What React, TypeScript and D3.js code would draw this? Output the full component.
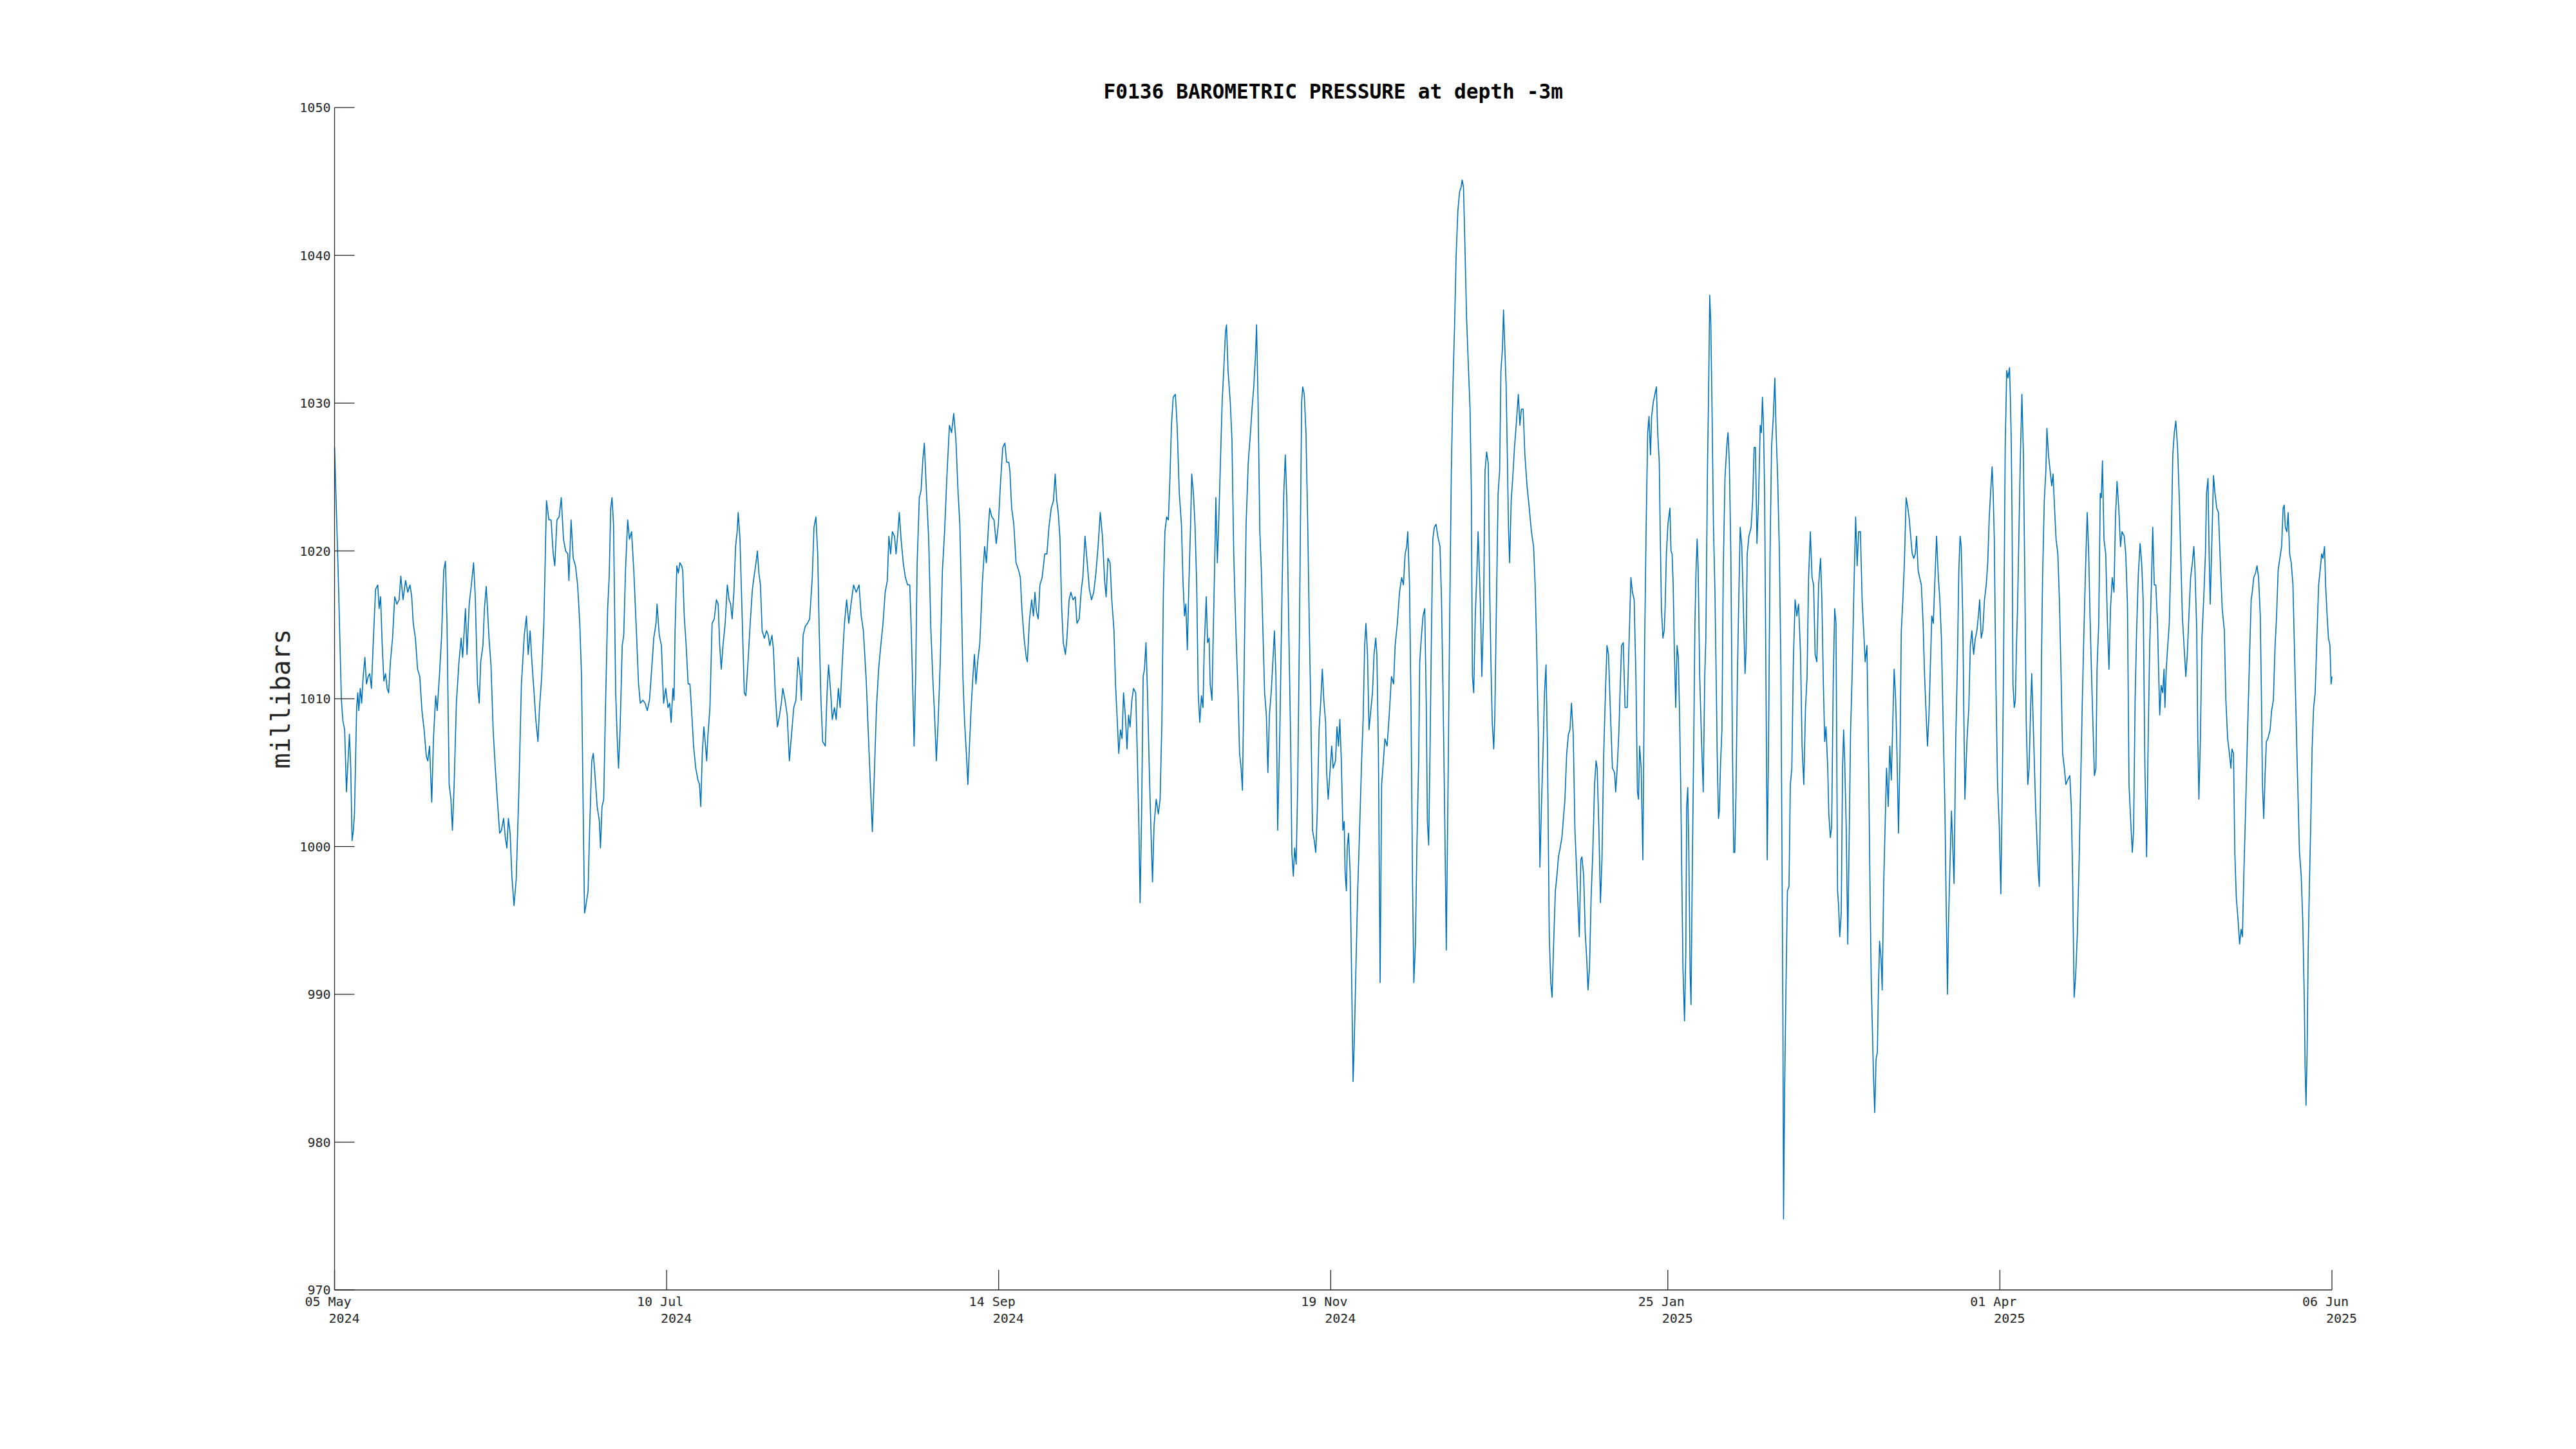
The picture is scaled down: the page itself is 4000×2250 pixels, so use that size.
import React from 'react';
import * as d3 from 'd3';

// ---- Data (day offset from 05 May 2024 00:00 UTC, pressure in millibars) ----
const START_MS = Date.UTC(2024, 4, 5);
const END_MS = Date.UTC(2025, 5, 6);

const yTickValues = [970, 980, 990, 1000, 1010, 1020, 1030, 1040, 1050];
const xTickDates = ['2024-05-05', '2024-07-10', '2024-09-14', '2024-11-19', '2025-01-25', '2025-04-01', '2025-06-06'];
const xTickDayLabels = ['05 May', '10 Jul', '14 Sep', '19 Nov', '25 Jan', '01 Apr', '06 Jun'];
const xTickYearLabels = ['2024', '2024', '2024', '2024', '2025', '2025', '2025'];

const seriesMayJul: [number, number][] = [
  [0, 1027.0], [0.71, 1018.7], [1.36, 1009.9], [1.66, 1008.5], [2.01, 1007.9], [2.36, 1003.7], [2.66, 1005.7], [2.96, 1007.6], [3.22, 1005.3], [3.48, 1000.4], [3.74, 1001.1], [3.96, 1002.2], [4.39, 1009.4], [4.61, 1010.4], [4.82, 1009.2], [5.12, 1010.7], [5.38, 1009.7], [5.69, 1011.5], [6.03, 1012.8], [6.34, 1011.0], [6.68, 1011.5], [6.99, 1011.7], [7.33, 1010.7], [7.63, 1013.3], [8.15, 1017.4], [8.59, 1017.7], [8.85, 1016.1], [9.15, 1016.9], [9.45, 1013.8], [9.80, 1011.2], [10.14, 1011.7], [10.45, 1010.7], [10.75, 1010.4], [11.10, 1012.5], [11.53, 1014.1], [11.96, 1016.9], [12.39, 1016.4], [12.83, 1016.7], [13.17, 1018.3], [13.61, 1016.7], [14.12, 1018.0], [14.56, 1017.2], [14.99, 1017.7], [15.34, 1016.9], [15.64, 1015.1], [16.07, 1014.1], [16.50, 1012.0], [16.94, 1011.5], [17.37, 1009.2], [17.80, 1007.9], [18.24, 1006.1], [18.54, 1005.8], [18.88, 1006.8], [19.32, 1003.0], [19.66, 1007.3], [20.10, 1010.2], [20.40, 1009.2], [20.83, 1011.5], [21.26, 1014.1], [21.70, 1018.7], [22.04, 1019.3], [22.35, 1015.1], [22.78, 1004.2], [23.13, 1003.2], [23.43, 1001.1], [23.77, 1004.2], [24.21, 1009.7], [24.73, 1012.5], [25.16, 1014.1], [25.46, 1012.8], [26.02, 1016.1], [26.33, 1013.0], [26.76, 1016.4], [27.19, 1017.7], [27.63, 1019.2], [27.97, 1016.9], [28.41, 1011.0], [28.75, 1009.7], [29.05, 1012.5], [29.49, 1013.6], [29.79, 1016.1], [30.14, 1017.6], [30.35, 1016.4], [30.70, 1014.1], [31.09, 1012.3], [31.52, 1007.9], [31.95, 1005.3], [32.39, 1003.0], [32.82, 1000.9], [33.16, 1001.1], [33.60, 1001.9], [33.94, 1000.6], [34.25, 999.9], [34.55, 1001.9], [34.90, 1000.9], [35.24, 998.0], [35.67, 996.0], [36.11, 997.8], [36.63, 1003.7], [37.14, 1011.0], [37.71, 1014.3], [38.14, 1015.6], [38.49, 1013.0], [38.88, 1014.6], [39.22, 1012.5], [39.66, 1010.4], [40.00, 1008.6], [40.43, 1007.1], [40.74, 1009.4], [41.17, 1011.5], [41.60, 1015.1], [42.12, 1023.4], [42.60, 1022.1], [43.03, 1022.1], [43.46, 1019.8], [43.77, 1019.0], [44.20, 1022.1], [44.63, 1022.3], [45.06, 1023.6], [45.50, 1020.8], [45.93, 1020.0], [46.36, 1019.8], [46.58, 1018.0], [47.01, 1022.1], [47.44, 1019.5], [47.88, 1019.0], [48.31, 1017.7], [48.74, 1015.1], [49.09, 1011.5], [49.39, 1003.2], [49.69, 995.5], [49.95, 996.0], [50.39, 997.0], [50.69, 1001.1], [51.12, 1005.8], [51.43, 1006.3], [51.77, 1004.8], [52.20, 1002.7], [52.64, 1001.7], [52.85, 999.9], [53.16, 1002.7], [53.50, 1003.2], [53.85, 1009.4], [54.28, 1016.1], [54.58, 1018.2], [54.89, 1022.9], [55.15, 1023.6], [55.45, 1021.8], [55.88, 1010.4], [56.18, 1007.3], [56.44, 1005.3], [56.75, 1007.9], [57.18, 1013.6], [57.48, 1014.3], [57.83, 1018.7], [58.26, 1022.1], [58.61, 1020.8], [59.04, 1021.3], [59.47, 1018.7], [59.99, 1014.6], [60.42, 1011.0], [60.77, 1009.7], [61.29, 1009.9], [61.72, 1009.7], [62.16, 1009.2], [62.59, 1009.9], [62.93, 1011.5], [63.45, 1014.1], [63.89, 1015.1], [64.10, 1016.4], [64.54, 1014.3], [64.97, 1013.6], [65.40, 1009.7], [65.83, 1010.7], [66.27, 1009.4],
];

const seriesJulSep: [number, number][] = [
  [66.6, 1009.7], [66.9, 1008.4], [67.25, 1010.7], [67.47, 1009.9], [67.68, 1014.6], [68.03, 1019.0], [68.33, 1018.5], [68.64, 1019.2], [68.98, 1019.0], [69.2, 1018.7], [69.5, 1015.6], [69.85, 1013.8], [70.28, 1011.0], [70.63, 1011.0], [70.93, 1009.4], [71.36, 1006.8], [71.79, 1005.3], [72.23, 1004.5], [72.53, 1004.2], [72.79, 1002.7], [73.09, 1006.3], [73.4, 1008.1], [73.74, 1006.8], [73.96, 1005.8], [74.17, 1007.3], [74.61, 1009.4], [75.04, 1015.1], [75.47, 1015.4], [75.9, 1016.7], [76.25, 1016.4], [76.55, 1013.6], [76.86, 1012.0], [77.2, 1013.6], [77.64, 1015.1], [78.07, 1017.7], [78.41, 1016.7], [78.72, 1016.4], [79.02, 1015.4], [79.37, 1017.2], [79.71, 1020.3], [80.02, 1021.3], [80.23, 1022.6], [80.58, 1020.8], [81.01, 1015.6], [81.44, 1010.4], [81.75, 1010.2], [82.18, 1012.5], [82.61, 1015.1], [83.05, 1017.4], [83.35, 1018.2], [83.69, 1019.0], [84.04, 1020.0], [84.34, 1018.5], [84.65, 1017.7], [84.99, 1014.6], [85.43, 1014.1], [85.86, 1014.6], [86.2, 1014.3], [86.51, 1013.6], [86.94, 1014.3], [87.24, 1013.3], [87.59, 1010.4], [88.02, 1008.1], [88.45, 1008.9], [88.8, 1009.7], [89.1, 1010.7], [89.54, 1009.9], [89.97, 1008.9], [90.4, 1005.8], [90.83, 1007.6], [91.27, 1009.4], [91.7, 1009.9], [92.13, 1012.8], [92.56, 1011.5], [92.78, 1009.9], [93.13, 1014.3], [93.56, 1014.9], [93.99, 1015.1], [94.43, 1015.4], [94.95, 1018.2], [95.29, 1021.6], [95.68, 1022.3], [96.03, 1019.8], [96.33, 1014.6], [96.68, 1009.9], [97.02, 1007.1], [97.54, 1006.8], [97.89, 1010.4], [98.19, 1012.3], [98.62, 1010.4], [98.93, 1008.6], [99.36, 1009.4], [99.7, 1008.6], [100.14, 1010.7], [100.48, 1009.4], [100.92, 1012.5], [101.35, 1015.1], [101.78, 1016.7], [102.21, 1015.1], [102.65, 1016.4], [103.16, 1017.7], [103.68, 1017.2], [104.25, 1017.7], [104.68, 1015.6], [105.11, 1014.6], [105.68, 1011.2], [106.19, 1006.8], [106.63, 1003.2], [106.89, 1001.0], [107.28, 1004.8], [107.71, 1009.4], [108.14, 1012.0], [108.57, 1013.6], [109.01, 1015.1], [109.44, 1017.2], [109.87, 1018.0], [110.18, 1021.0], [110.52, 1019.8], [110.87, 1021.3], [111.3, 1021.0], [111.6, 1019.8], [111.91, 1021.0], [112.25, 1022.6], [112.6, 1020.8], [113.03, 1019.2], [113.46, 1018.2], [113.9, 1017.7], [114.33, 1017.7], [114.63, 1014.6], [114.94, 1010.4], [115.19, 1006.8], [115.5, 1011.5], [115.8, 1019.2], [116.23, 1023.6], [116.58, 1024.1], [116.93, 1026.2], [117.23, 1027.3], [117.66, 1023.9], [118.09, 1020.8], [118.53, 1014.6], [118.96, 1011.0], [119.26, 1008.9], [119.61, 1005.8], [119.96, 1008.4], [120.39, 1012.5], [120.82, 1018.7], [121.25, 1021.3], [121.69, 1024.9], [122.21, 1028.5], [122.64, 1028.0], [123.07, 1029.3], [123.5, 1027.5], [123.94, 1023.9], [124.28, 1021.8], [124.58, 1017.2], [124.89, 1011.5], [125.23, 1008.4], [125.58, 1006.3], [125.88, 1004.2], [126.19, 1006.8], [126.53, 1009.4], [126.88, 1011.5], [127.18, 1013.0], [127.48, 1011.0], [127.83, 1012.5], [128.26, 1013.8], [128.78, 1018.0], [129.21, 1020.3], [129.56, 1019.2], [129.91, 1021.3], [130.21, 1022.9], [130.64, 1022.3], [131.08, 1022.1], [131.51, 1020.5], [131.94, 1021.8], [132.38, 1024.7], [132.81, 1027.0], [133.24, 1027.3],
];

const seriesSepNov: [number, number][] = [
  [133.58, 1026.0], [134.02, 1026.0], [134.23, 1025.4], [134.58, 1022.9], [135.01, 1021.8], [135.45, 1019.2], [135.96, 1018.7], [136.31, 1018.2], [136.61, 1016.1], [137.05, 1014.1], [137.48, 1012.8], [137.7, 1012.5], [138.13, 1015.4], [138.56, 1016.7], [138.91, 1015.6], [139.21, 1017.2], [139.51, 1015.9], [139.86, 1015.4], [140.2, 1017.7], [140.64, 1018.2], [141.16, 1019.8], [141.59, 1019.8], [141.99, 1021.6], [142.45, 1022.9], [142.89, 1023.4], [143.23, 1025.2], [143.54, 1023.4], [143.84, 1022.6], [144.19, 1020.8], [144.53, 1016.1], [144.84, 1013.8], [145.27, 1013.0], [145.57, 1014.1], [146.0, 1016.7], [146.35, 1017.2], [146.78, 1016.7], [147.22, 1016.9], [147.56, 1015.1], [148.0, 1015.4], [148.43, 1017.4], [148.73, 1018.2], [149.16, 1021.0], [149.6, 1019.2], [150.03, 1017.4], [150.46, 1016.7], [150.89, 1017.2], [151.33, 1018.5], [151.76, 1020.3], [152.19, 1022.6], [152.62, 1021.0], [153.06, 1018.0], [153.36, 1016.9], [153.71, 1019.5], [154.14, 1019.2], [154.48, 1016.7], [154.92, 1014.6], [155.22, 1011.0], [155.52, 1008.9], [155.87, 1006.3], [156.21, 1007.9], [156.52, 1007.3], [156.82, 1010.4], [157.17, 1008.9], [157.51, 1006.6], [157.82, 1008.9], [158.12, 1008.1], [158.47, 1009.9], [158.81, 1010.7], [159.24, 1010.4], [159.55, 1006.3], [159.85, 1001.7], [160.11, 996.2], [160.41, 1002.2], [160.72, 1011.5], [160.98, 1012.0], [161.28, 1013.8], [161.58, 1010.4], [161.93, 1005.3], [162.27, 1001.1], [162.58, 997.6], [162.88, 1001.4], [163.31, 1003.2], [163.74, 1002.2], [164.09, 1003.2], [164.44, 1008.4], [164.74, 1017.2], [165.04, 1021.3], [165.39, 1022.3], [165.73, 1022.1], [166.04, 1024.9], [166.34, 1028.5], [166.69, 1030.4], [167.12, 1030.6], [167.47, 1028.5], [167.9, 1023.9], [168.33, 1021.8], [168.63, 1018.0], [168.94, 1015.6], [169.2, 1016.4], [169.5, 1013.3], [169.8, 1017.7], [170.15, 1021.8], [170.37, 1025.2], [170.71, 1023.9], [171.02, 1021.8], [171.36, 1017.7], [171.66, 1010.4], [171.97, 1008.4], [172.31, 1010.2], [172.61, 1009.4], [172.87, 1013.6], [173.26, 1016.9], [173.52, 1013.8], [173.83, 1014.1], [174.04, 1011.0], [174.39, 1009.9], [174.69, 1015.1], [174.91, 1018.7], [175.17, 1023.6], [175.47, 1019.2], [175.77, 1022.3], [176.12, 1026.5], [176.42, 1030.1], [176.73, 1032.2], [177.07, 1034.8], [177.29, 1035.3], [177.59, 1032.2], [178.03, 1030.1], [178.37, 1027.5], [178.72, 1019.8], [179.15, 1014.6], [179.58, 1010.4], [179.88, 1006.3], [180.19, 1005.3], [180.45, 1003.8], [180.75, 1011.0], [181.18, 1021.8], [181.61, 1026.0], [182.05, 1028.0], [182.35, 1029.6], [182.7, 1031.1], [183.04, 1033.2], [183.26, 1035.3], [183.56, 1030.1], [183.91, 1021.3], [184.21, 1018.7], [184.52, 1014.6], [184.86, 1010.4], [185.21, 1008.9], [185.51, 1005.0], [185.81, 1008.9], [186.16, 1010.4], [186.42, 1012.0], [186.81, 1014.6], [187.11, 1011.5], [187.46, 1001.1], [187.89, 1007.9], [188.32, 1017.2], [188.67, 1023.9], [188.97, 1026.5], [189.28, 1023.4], [189.62, 1015.6], [190.05, 1006.8], [190.27, 999.6], [190.57, 998.0], [190.83, 999.9], [191.13, 998.8], [191.44, 1004.2], [191.78, 1014.6], [192.22, 1030.1], [192.43, 1031.1], [192.74, 1030.6], [193.08, 1028.0], [193.43, 1021.8], [193.73, 1015.1], [194.03, 1009.4], [194.38, 1001.1], [194.73, 1000.4], [195.03, 999.6], [195.33, 1002.4], [195.68, 1007.9], [196.03, 1009.9], [196.33, 1012.0], [196.63, 1009.9], [196.98, 1008.4], [197.19, 1005.0], [197.5, 1003.2], [197.84, 1005.0], [198.19, 1006.8], [198.49, 1005.3],
];

const seriesNovJan: [number, number][] = [
  [198.95, 1005.8], [199.25, 1008.1], [199.55, 1006.8], [199.81, 1008.6], [200.11, 1005.8], [200.42, 1001.1], [200.68, 1001.7], [200.85, 998.3], [201.11, 997.0], [201.28, 999.9], [201.54, 1000.9], [201.85, 998.3], [202.15, 991.3], [202.45, 984.1], [202.71, 987.2], [203.01, 991.8], [203.36, 997.0], [203.79, 1001.7], [204.14, 1005.8], [204.44, 1008.6], [204.74, 1013.6], [205.0, 1015.1], [205.31, 1013.0], [205.61, 1007.9], [205.96, 1009.2], [206.3, 1010.4], [206.61, 1013.0], [206.95, 1014.1], [207.17, 1013.0], [207.47, 1006.8], [207.82, 990.8], [208.12, 1004.2], [208.47, 1005.8], [208.77, 1007.3], [209.2, 1006.8], [209.63, 1008.9], [210.07, 1011.5], [210.5, 1011.0], [210.8, 1013.6], [211.24, 1015.1], [211.67, 1017.2], [212.1, 1018.2], [212.45, 1017.7], [212.79, 1019.8], [213.1, 1020.3], [213.31, 1021.3], [213.66, 1017.7], [213.96, 1009.4], [214.26, 997.5], [214.52, 990.8], [214.83, 993.4], [215.13, 1000.1], [215.48, 1005.8], [215.69, 1012.5], [216.0, 1014.1], [216.34, 1015.6], [216.69, 1016.1], [217.0, 1009.4], [217.21, 1001.7], [217.47, 1000.1], [217.73, 1006.3], [217.99, 1013.6], [218.29, 1020.8], [218.59, 1021.6], [218.94, 1021.8], [219.28, 1021.0], [219.72, 1020.3], [220.02, 1016.7], [220.32, 1010.4], [220.67, 1001.7], [220.97, 993.0], [221.32, 1004.2], [221.62, 1014.6], [221.97, 1025.4], [222.31, 1031.4], [222.62, 1035.3], [222.92, 1039.9], [223.27, 1043.0], [223.61, 1044.3], [223.91, 1044.6], [224.13, 1045.1], [224.39, 1044.6], [224.65, 1041.0], [225.0, 1035.8], [225.34, 1032.7], [225.69, 1029.6], [225.95, 1023.9], [226.16, 1011.5], [226.42, 1010.4], [226.73, 1015.6], [227.07, 1018.7], [227.29, 1021.3], [227.59, 1018.2], [227.81, 1015.6], [228.03, 1011.5], [228.37, 1015.6], [228.67, 1025.4], [228.98, 1026.7], [229.32, 1025.9], [229.58, 1017.7], [229.84, 1012.5], [230.1, 1008.4], [230.4, 1006.6], [230.62, 1008.9], [230.97, 1017.2], [231.27, 1023.9], [231.57, 1025.4], [231.83, 1032.2], [232.13, 1033.7], [232.35, 1036.3], [232.61, 1033.7], [232.87, 1031.1], [233.13, 1025.9], [233.35, 1021.3], [233.56, 1019.2], [233.87, 1023.4], [234.17, 1024.9], [234.52, 1027.0], [234.86, 1028.5], [235.29, 1030.6], [235.6, 1028.5], [235.9, 1029.6], [236.25, 1029.6], [236.59, 1026.5], [237.02, 1024.4], [237.46, 1022.9], [237.89, 1021.3], [238.32, 1020.3], [238.63, 1017.7], [238.93, 1013.6], [239.28, 1007.3], [239.58, 998.6], [239.92, 1003.2], [240.23, 1006.8], [240.49, 1010.4], [240.79, 1012.3], [241.09, 1006.3], [241.44, 993.9], [241.74, 990.8], [242.0, 989.8], [242.3, 993.4], [242.65, 997.0], [242.95, 998.0], [243.26, 999.3], [243.6, 999.9], [243.95, 1000.6], [244.25, 1001.9], [244.55, 1003.2], [244.9, 1006.3], [245.25, 1007.6], [245.55, 1007.9], [245.85, 1009.7], [246.2, 1007.6], [246.54, 1001.1], [246.85, 998.6], [247.15, 996.0], [247.41, 993.9], [247.71, 999.1], [247.93, 999.3], [248.28, 998.0], [248.58, 994.2], [248.88, 992.4], [249.14, 990.3], [249.44, 991.8], [249.75, 996.5], [250.09, 999.6], [250.44, 1004.2], [250.74, 1005.8], [250.96, 1005.3], [251.31, 1001.1], [251.61, 996.2], [251.91, 999.1], [252.26, 1006.3], [252.6, 1010.4], [252.91, 1013.6], [253.21, 1013.0], [253.56, 1009.4], [253.99, 1005.3], [254.42, 1005.0], [254.64, 1003.7], [254.94, 1005.3], [255.29, 1007.9], [255.5, 1010.4], [255.81, 1013.6], [256.15, 1013.8], [256.5, 1009.4], [256.93, 1009.4], [257.36, 1014.6], [257.66, 1018.2], [257.97, 1017.2], [258.31, 1016.7], [258.66, 1011.5], [258.96, 1003.7], [259.18, 1003.2], [259.4, 1006.8], [259.7, 1005.3], [260.04, 999.1], [260.39, 1013.6], [260.7, 1021.8], [261.0, 1028.0], [261.26, 1029.1], [261.56, 1026.5], [261.78, 1029.1], [262.13, 1030.1], [262.43, 1030.6], [262.73, 1031.1], [262.99, 1028.0], [263.3, 1026.0], [263.51, 1020.8], [263.73, 1016.1], [264.03, 1014.1], [264.28, 1014.6], [264.46, 1016.1], [264.72, 1019.8], [265.02, 1021.8],
];

const seriesJanApr: [number, number][] = [
  [265.42, 1022.9], [265.63, 1020.0], [265.85, 1019.8], [266.07, 1017.7], [266.28, 1013.6], [266.58, 1009.4], [266.84, 1013.6], [267.1, 1012.8], [267.36, 1008.4], [267.58, 1003.7], [267.8, 997.5], [268.01, 991.8], [268.32, 988.2], [268.58, 992.9], [268.75, 1002.7], [268.96, 1004.0], [269.18, 999.6], [269.44, 991.3], [269.61, 989.3], [269.87, 998.5], [270.13, 1006.3], [270.39, 1015.1], [270.61, 1018.7], [270.83, 1020.8], [271.04, 1018.7], [271.34, 1011.5], [271.69, 1007.3], [272.04, 1003.7], [272.34, 1011.5], [272.56, 1014.1], [272.9, 1026.0], [273.12, 1031.1], [273.33, 1037.3], [273.55, 1035.3], [273.77, 1030.1], [274.07, 1021.8], [274.37, 1017.2], [274.63, 1011.0], [274.81, 1006.3], [275.07, 1001.9], [275.24, 1002.4], [275.5, 1005.8], [275.76, 1007.9], [276.02, 1018.7], [276.36, 1024.9], [276.54, 1026.0], [276.8, 1027.5], [276.97, 1028.0], [277.23, 1026.0], [277.53, 1019.8], [277.84, 1006.8], [278.1, 999.6], [278.31, 999.6], [278.53, 1003.2], [278.83, 1011.5], [279.13, 1017.2], [279.39, 1021.6], [279.7, 1020.3], [279.91, 1017.7], [280.13, 1014.6], [280.35, 1011.7], [280.56, 1013.3], [280.78, 1019.8], [281.12, 1021.0], [281.56, 1021.6], [281.86, 1023.4], [282.16, 1027.0], [282.42, 1027.0], [282.72, 1020.5], [283.03, 1023.4], [283.37, 1028.5], [283.59, 1028.0], [283.81, 1030.4], [284.02, 1028.5], [284.24, 1023.9], [284.5, 1011.5], [284.76, 999.1], [285.02, 1006.8], [285.32, 1019.8], [285.62, 1027.0], [285.97, 1029.1], [286.27, 1031.7], [286.53, 1028.0], [286.84, 1024.9], [287.18, 1019.8], [287.48, 1012.0], [287.7, 999.1], [287.87, 988.7], [288.0, 974.8], [288.22, 983.6], [288.48, 990.3], [288.78, 997.0], [289.09, 997.3], [289.35, 1004.2], [289.65, 1005.3], [289.95, 1012.5], [290.3, 1016.7], [290.64, 1015.6], [290.99, 1016.4], [291.38, 1013.0], [291.68, 1006.8], [292.03, 1004.2], [292.37, 1009.4], [292.68, 1011.5], [292.98, 1018.2], [293.33, 1021.3], [293.67, 1018.2], [293.98, 1017.7], [294.28, 1013.0], [294.62, 1012.5], [294.97, 1017.7], [295.36, 1019.5], [295.62, 1016.7], [295.92, 1011.0], [296.18, 1007.1], [296.44, 1008.1], [296.79, 1005.3], [297.0, 1002.2], [297.31, 1000.6], [297.57, 1001.4], [297.87, 1011.0], [298.17, 1016.1], [298.43, 1015.1], [298.74, 997.0], [298.95, 996.0], [299.17, 993.9], [299.47, 995.5], [299.73, 1005.3], [299.95, 1007.9], [300.16, 1005.8], [300.47, 1001.1], [300.77, 993.4], [301.03, 1000.1], [301.33, 1007.9], [301.63, 1011.5], [301.98, 1017.2], [302.33, 1022.3], [302.63, 1019.0], [302.93, 1021.3], [303.28, 1021.3], [303.62, 1016.7], [303.93, 1014.6], [304.23, 1012.5], [304.58, 1013.6], [304.92, 1005.3], [305.23, 996.0], [305.44, 990.8], [305.66, 987.7], [305.87, 984.6], [306.13, 982.0], [306.39, 985.6], [306.65, 986.1], [306.83, 989.8], [307.09, 993.6], [307.39, 992.4], [307.61, 990.3], [307.91, 997.5], [308.17, 1001.1], [308.47, 1005.3], [308.82, 1002.7], [309.12, 1006.8], [309.42, 1004.5], [309.68, 1007.9], [309.99, 1012.0], [310.29, 1009.9], [310.55, 1006.3], [310.85, 1000.9], [311.15, 1006.3], [311.41, 1014.6], [311.72, 1016.7], [312.02, 1019.2], [312.37, 1023.6], [312.71, 1022.9], [313.01, 1022.1], [313.32, 1020.8], [313.58, 1019.8], [313.88, 1019.5], [314.18, 1019.8], [314.44, 1021.0], [314.75, 1018.7], [315.05, 1018.2], [315.39, 1017.7], [315.74, 1015.1], [316.04, 1011.5], [316.35, 1008.9], [316.61, 1006.8], [316.91, 1008.9], [317.21, 1012.5], [317.47, 1015.6], [317.77, 1015.1], [318.08, 1018.0], [318.42, 1021.0], [318.77, 1018.2], [319.07, 1016.7], [319.38, 1014.1], [319.72, 1008.4], [320.07, 1002.7], [320.37, 995.0], [320.59, 990.0], [320.8, 995.0], [321.11, 999.1], [321.37, 1002.4], [321.58, 1000.6], [321.89, 997.5], [322.23, 1007.3], [322.54, 1012.0], [322.84, 1018.7], [323.1, 1021.0], [323.32, 1020.3], [323.62, 1015.6], [323.84, 1008.9], [324.05, 1003.2], [324.26, 1005.3], [324.48, 1007.3], [324.83, 1009.4], [325.13, 1013.6], [325.43, 1014.6], [325.78, 1013.0], [326.13, 1014.1], [326.43, 1014.6], [326.73, 1015.6], [326.99, 1016.7], [327.29, 1014.1], [327.6, 1014.6], [327.94, 1016.7], [328.29, 1017.7], [328.59, 1019.2], [328.89, 1022.3], [329.15, 1023.9], [329.46, 1025.7], [329.67, 1023.9], [329.89, 1020.8], [330.19, 1011.5], [330.54, 1004.2], [330.88, 1001.4], [331.19, 996.8], [331.49, 1004.2], [331.75, 1013.0], [332.06, 1027.0], [332.36, 1032.2], [332.62, 1031.7], [332.92, 1032.4],
];

const seriesAprJun: [number, number][] = [
  [333.08, 1030.4], [333.26, 1027.5], [333.43, 1021.8], [333.6, 1011.0], [333.86, 1009.4], [334.08, 1009.9], [334.3, 1013.6], [334.51, 1016.1], [334.82, 1021.8], [335.08, 1026.5], [335.38, 1030.6], [335.68, 1026.5], [335.94, 1018.7], [336.24, 1008.4], [336.55, 1004.2], [336.81, 1005.3], [337.11, 1009.4], [337.33, 1011.7], [337.54, 1009.4], [337.76, 1006.8], [338.1, 1002.7], [338.41, 1000.1], [338.62, 998.3], [338.84, 997.3], [339.06, 1003.2], [339.27, 1012.5], [339.49, 1018.2], [339.83, 1023.4], [340.14, 1025.4], [340.35, 1028.3], [340.66, 1026.5], [341.0, 1025.4], [341.31, 1024.4], [341.57, 1025.2], [341.87, 1022.9], [342.17, 1020.8], [342.52, 1019.8], [342.86, 1016.4], [343.17, 1011.5], [343.47, 1006.3], [343.82, 1005.3], [344.12, 1004.2], [344.47, 1004.5], [344.9, 1004.8], [345.2, 1002.7], [345.46, 998.0], [345.76, 989.8], [346.07, 991.3], [346.41, 994.2], [346.76, 999.1], [347.06, 1004.2], [347.36, 1009.4], [347.71, 1014.6], [348.06, 1019.2], [348.36, 1022.6], [348.66, 1019.8], [348.92, 1015.6], [349.23, 1011.5], [349.53, 1007.9], [349.79, 1004.8], [350.09, 1005.3], [350.31, 1012.0], [350.65, 1015.1], [350.96, 1023.9], [351.17, 1023.6], [351.39, 1026.1], [351.69, 1020.8], [352.04, 1019.8], [352.38, 1015.1], [352.69, 1012.0], [352.99, 1016.1], [353.34, 1018.2], [353.68, 1017.2], [353.98, 1022.3], [354.29, 1024.7], [354.63, 1022.9], [354.98, 1020.3], [355.28, 1021.3], [355.72, 1021.0], [356.02, 1019.8], [356.36, 1016.4], [356.67, 1004.2], [357.01, 1001.7], [357.32, 999.6], [357.58, 1001.1], [357.88, 1009.9], [358.18, 1014.6], [358.53, 1018.5], [358.87, 1020.5], [359.18, 1019.2], [359.48, 1016.7], [359.83, 1005.3], [360.17, 999.3], [360.48, 1007.3], [360.78, 1013.6], [361.12, 1017.7], [361.38, 1021.6], [361.69, 1017.7], [361.99, 1017.7], [362.34, 1015.1], [362.51, 1012.5], [362.77, 1008.9], [363.07, 1010.9], [363.37, 1010.4], [363.63, 1012.0], [363.81, 1009.4], [364.07, 1012.0], [364.37, 1013.6], [364.67, 1015.1], [365.02, 1019.8], [365.37, 1026.5], [365.67, 1028.0], [365.97, 1028.8], [366.32, 1027.0], [366.66, 1023.6], [366.97, 1019.5], [367.27, 1015.6], [367.62, 1013.5], [367.96, 1011.5], [368.26, 1013.0], [368.57, 1015.6], [368.91, 1018.2], [369.26, 1019.2], [369.56, 1020.3], [369.78, 1018.7], [370.13, 1014.6], [370.34, 1007.3], [370.56, 1003.2], [370.86, 1007.3], [371.16, 1014.1], [371.51, 1016.7], [371.86, 1019.8], [372.07, 1023.9], [372.37, 1024.9], [372.59, 1019.8], [372.81, 1016.4], [373.15, 1020.8], [373.46, 1025.1], [373.76, 1023.9], [374.1, 1022.9], [374.45, 1022.6], [374.75, 1019.8], [375.19, 1016.1], [375.62, 1014.6], [375.92, 1009.9], [376.27, 1007.3], [376.62, 1006.3], [376.92, 1005.3], [377.13, 1006.6], [377.44, 1006.3], [377.7, 999.6], [378.0, 996.5], [378.35, 995.0], [378.65, 993.4], [378.95, 994.4], [379.21, 993.9], [379.52, 998.5], [379.82, 1002.2], [380.16, 1006.8], [380.6, 1012.5], [380.95, 1016.7], [381.16, 1017.2], [381.46, 1018.2], [381.81, 1018.5], [382.11, 1019.0], [382.42, 1018.2], [382.76, 1015.6], [382.98, 1010.4], [383.19, 1004.2], [383.45, 1001.9], [383.71, 1004.8], [383.97, 1007.1], [384.27, 1007.3], [384.71, 1007.9], [385.01, 1009.2], [385.36, 1009.9], [385.7, 1013.6], [386.0, 1015.6], [386.31, 1018.7], [386.65, 1019.5], [387.0, 1020.3], [387.3, 1022.9], [387.52, 1023.1], [387.74, 1021.6], [388.04, 1021.3], [388.3, 1022.6], [388.6, 1019.8], [388.91, 1019.2], [389.25, 1017.7], [389.68, 1011.5], [390.12, 1005.3], [390.55, 999.6], [390.9, 998.0], [391.2, 995.0], [391.5, 989.8], [391.67, 985.1], [391.85, 982.5], [392.07, 986.1], [392.28, 992.9], [392.5, 997.0], [392.8, 1001.7], [393.06, 1006.6], [393.36, 1009.4], [393.67, 1010.4], [394.01, 1014.1], [394.36, 1017.7], [394.66, 1018.7], [394.96, 1019.8], [395.22, 1019.5], [395.53, 1020.3], [395.74, 1017.7], [396.05, 1015.6], [396.31, 1014.1], [396.61, 1013.6], [396.83, 1011.0], [397.0, 1011.5],
];

// ---- Layout ----
const WIDTH = 4000;
const HEIGHT = 2250;
const PLOT = { left: 519.5, right: 3621, top: 167, bottom: 2003 };
const FONT = '"DejaVu Sans Mono", "Liberation Mono", monospace';
const AXIS_COLOR = '#262626';
const LINE_COLOR = '#0072BD';
const TICK_LEN = 31;

export default function App() {
  const x = d3
    .scaleUtc()
    .domain([new Date(START_MS), new Date(END_MS)])
    .range([PLOT.left, PLOT.right]);
  const y = d3.scaleLinear().domain([970, 1050]).range([PLOT.bottom, PLOT.top]);

  const all = [...seriesMayJul, ...seriesJulSep, ...seriesSepNov, ...seriesNovJan, ...seriesJanApr, ...seriesAprJun]
    .map(([d, v]) => ({ t: new Date(START_MS + d * 86400000), v }))
    .sort((a, b) => +a.t - +b.t);

  const linePath = d3
    .line<{ t: Date; v: number }>()
    .x((d) => x(d.t))
    .y((d) => y(d.v))(all) || '';

  const tickDates = xTickDates.map((s) => new Date(s + 'T00:00:00Z'));
  const midX = (PLOT.left + PLOT.right) / 2;
  const midY = (PLOT.top + PLOT.bottom) / 2;

  return (
    <svg
      width={WIDTH}
      height={HEIGHT}
      style={{ position: 'absolute', left: 0, top: 0, background: '#ffffff' }}
      fontFamily={FONT}
    >
      <rect x={0} y={0} width={WIDTH} height={HEIGHT} fill="#ffffff" />

      {/* data line */}
      <path d={linePath} fill="none" stroke={LINE_COLOR} strokeWidth={1.6} strokeLinejoin="round" />

      {/* y axis */}
      <line x1={PLOT.left} x2={PLOT.left} y1={PLOT.top} y2={PLOT.bottom} stroke={AXIS_COLOR} strokeWidth={1.3} />
      {yTickValues.map((v) => (
        <g key={'y' + v}>
          <line x1={PLOT.left} x2={PLOT.left + TICK_LEN} y1={y(v)} y2={y(v)} stroke={AXIS_COLOR} strokeWidth={1.3} />
          <text x={PLOT.left - 6} y={y(v) + 7} textAnchor="end" fontSize={20} fill={AXIS_COLOR}>
            {v}
          </text>
        </g>
      ))}

      {/* x axis */}
      <line x1={PLOT.left} x2={PLOT.right} y1={PLOT.bottom} y2={PLOT.bottom} stroke={AXIS_COLOR} strokeWidth={1.3} />
      {tickDates.map((d, i) => (
        <g key={'x' + i}>
          <line x1={x(d)} x2={x(d)} y1={PLOT.bottom} y2={PLOT.bottom - TICK_LEN} stroke={AXIS_COLOR} strokeWidth={1.3} />
          <text x={x(d) - 10} y={PLOT.bottom + 25} textAnchor="middle" fontSize={20} fill={AXIS_COLOR}>
            {xTickDayLabels[i]}
          </text>
          <text x={x(d) + 15} y={PLOT.bottom + 51} textAnchor="middle" fontSize={20} fill={AXIS_COLOR}>
            {xTickYearLabels[i]}
          </text>
        </g>
      ))}

      {/* y label */}
      <text
        transform={`translate(450, ${midY}) rotate(-90)`}
        textAnchor="middle"
        fontSize={40}
        fill={AXIS_COLOR}
      >
        millibars
      </text>

      {/* title */}
      <text x={midX} y={153} textAnchor="middle" fontSize={31.2} fontWeight="bold" fill="#000000">
        F0136 BAROMETRIC PRESSURE at depth -3m
      </text>
    </svg>
  );
}
